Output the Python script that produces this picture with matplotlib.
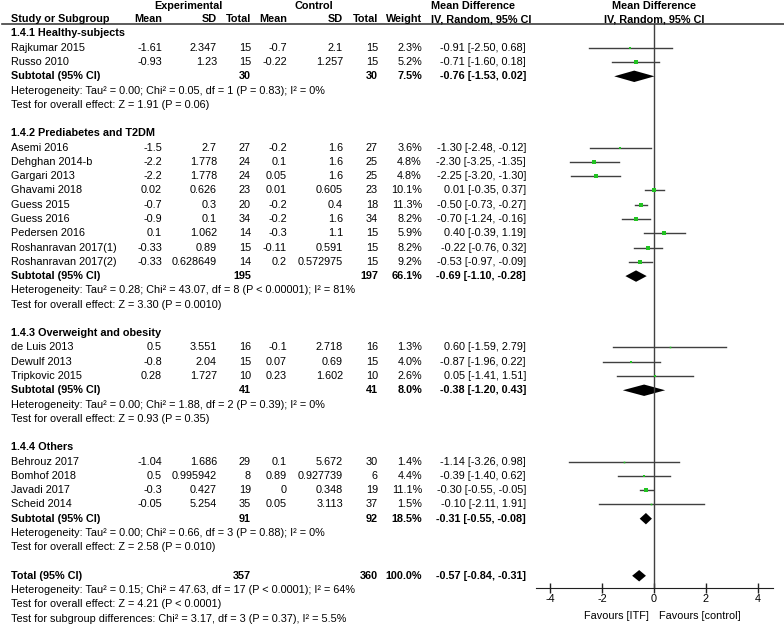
import numpy as np
import matplotlib.pyplot as plt
from matplotlib.patches import Polygon

plt.rcParams['font.family'] = ['Liberation Sans', 'DejaVu Sans']
plt.rcParams['axes.unicode_minus'] = False

# ---- data -------------------------------------------------------------
groups = ['1.4.1 Healthy-subjects', '1.4.2 Prediabetes and T2DM',
          '1.4.3 Overweight and obesity', '1.4.4 Others']
group_of = [0, 0, 1, 1, 1, 1, 1, 1, 1, 1, 1, 2, 2, 2, 3, 3, 3, 3]
studies = ['Rajkumar 2015', 'Russo 2010',
           'Asemi 2016', 'Dehghan 2014-b', 'Gargari 2013', 'Ghavami 2018',
           'Guess 2015', 'Guess 2016', 'Pedersen 2016', 'Roshanravan 2017(1)',
           'Roshanravan 2017(2)',
           'de Luis 2013', 'Dewulf 2013', 'Tripkovic 2015',
           'Behrouz 2017', 'Bomhof 2018', 'Javadi 2017', 'Scheid 2014']
exp_mean = [-1.61, -0.93, -1.5, -2.2, -2.2, 0.02, -0.7, -0.9, 0.1, -0.33, -0.33,
            0.5, -0.8, 0.28, -1.04, 0.5, -0.3, -0.05]
exp_sd = [2.347, 1.23, 2.7, 1.778, 1.778, 0.626, 0.3, 0.1, 1.062, 0.89, 0.628649,
          3.551, 2.04, 1.727, 1.686, 0.995942, 0.427, 5.254]
exp_n = [15, 15, 27, 24, 24, 23, 20, 34, 14, 15, 14, 16, 15, 10, 29, 8, 19, 35]
ctl_mean = [-0.7, -0.22, -0.2, 0.1, 0.05, 0.01, -0.2, -0.2, -0.3, -0.11, 0.2,
            -0.1, 0.07, 0.23, 0.1, 0.89, 0, 0.05]
ctl_sd = [2.1, 1.257, 1.6, 1.6, 1.6, 0.605, 0.4, 1.6, 1.1, 0.591, 0.572975,
          2.718, 0.69, 1.602, 5.672, 0.927739, 0.348, 3.113]
ctl_n = [15, 15, 27, 25, 25, 23, 18, 34, 15, 15, 15, 16, 15, 10, 30, 6, 19, 37]
weight = [2.3, 5.2, 3.6, 4.8, 4.8, 10.1, 11.3, 8.2, 5.9, 8.2, 9.2,
          1.3, 4.0, 2.6, 1.4, 4.4, 11.1, 1.5]
md = [-0.91, -0.71, -1.30, -2.30, -2.25, 0.01, -0.50, -0.70, 0.40, -0.22, -0.53,
      0.60, -0.87, 0.05, -1.14, -0.39, -0.30, -0.10]
ci_lo = [-2.50, -1.60, -2.48, -3.25, -3.20, -0.35, -0.73, -1.24, -0.39, -0.76, -0.97,
         -1.59, -1.96, -1.41, -3.26, -1.40, -0.55, -2.11]
ci_hi = [0.68, 0.18, -0.12, -1.35, -1.30, 0.37, -0.27, -0.16, 1.19, 0.32, -0.09,
         2.79, 0.22, 1.51, 0.98, 0.62, -0.05, 1.91]

sub_exp_n = [30, 195, 41, 91]
sub_ctl_n = [30, 197, 41, 92]
sub_weight = [7.5, 66.1, 8.0, 18.5]
sub_md = [-0.76, -0.69, -0.38, -0.31]
sub_lo = [-1.53, -1.10, -1.20, -0.55]
sub_hi = [0.02, -0.28, 0.43, -0.08]
sub_het = ['Heterogeneity: Tau\u00b2 = 0.00; Chi\u00b2 = 0.05, df = 1 (P = 0.83); I\u00b2 = 0%',
           'Heterogeneity: Tau\u00b2 = 0.28; Chi\u00b2 = 43.07, df = 8 (P < 0.00001); I\u00b2 = 81%',
           'Heterogeneity: Tau\u00b2 = 0.00; Chi\u00b2 = 1.88, df = 2 (P = 0.39); I\u00b2 = 0%',
           'Heterogeneity: Tau\u00b2 = 0.00; Chi\u00b2 = 0.66, df = 3 (P = 0.88); I\u00b2 = 0%']
sub_test = ['Test for overall effect: Z = 1.91 (P = 0.06)',
            'Test for overall effect: Z = 3.30 (P = 0.0010)',
            'Test for overall effect: Z = 0.93 (P = 0.35)',
            'Test for overall effect: Z = 2.58 (P = 0.010)']

tot_exp_n, tot_ctl_n, tot_weight = 357, 360, 100.0
tot_md, tot_lo, tot_hi = -0.57, -0.84, -0.31
tot_lines = ['Heterogeneity: Tau\u00b2 = 0.15; Chi\u00b2 = 47.63, df = 17 (P < 0.0001); I\u00b2 = 64%',
             'Test for overall effect: Z = 4.21 (P < 0.0001)',
             'Test for subgroup differences: Chi\u00b2 = 3.17, df = 3 (P = 0.37), I\u00b2 = 5.5%']

# ---- layout -----------------------------------------------------------
W, H = 784, 625
ROW0, PITCH = 33.5, 14.27
FS = 7.8
GREEN = '#22c322'
GREY = '#404040'

def ypx(r):
    return ROW0 + PITCH * r

fig = plt.figure(figsize=(W / 100, H / 100), dpi=100)
tx = fig.add_axes([0, 0, 1, 1])
tx.set_xlim(0, W)
tx.set_ylim(H, 0)
tx.axis('off')

ax_l, ax_r, ax_top, ax_bot = 536, 773, 24, 588
ax = fig.add_axes([ax_l / W, (H - ax_bot) / H, (ax_r - ax_l) / W, (ax_bot - ax_top) / H])
ax.set_xlim(-4.54, 4.58)
ax.set_ylim((ax_bot - ROW0) / PITCH, (ax_top - ROW0) / PITCH)
ax.patch.set_alpha(0)
for s in ['left', 'right', 'top']:
    ax.spines[s].set_visible(False)
ax.spines['bottom'].set_color('#202020')
ax.set_yticks([])
ax.set_xticks([-4, -2, 0, 2, 4])
ax.tick_params(axis='x', direction='inout', length=7, width=1, color='#202020',
               labelsize=FS, pad=1)
ax.axvline(0, color=GREY, lw=1)

# column right edges
cx = dict(em=162, esd=217, en=251, cm=287, csd=343, cn=378, w=422, md=526)

def t(x, r, s, ha='right', bold=False):
    tx.text(x, ypx(r), s, ha=ha, va='center', fontsize=FS,
            fontweight='bold' if bold else 'normal', color='black')

# headers
tx.text(188, 6, 'Experimental', ha='center', va='center', fontsize=FS, fontweight='bold')
tx.text(314, 6, 'Control', ha='center', va='center', fontsize=FS, fontweight='bold')
tx.text(431, 6, 'Mean Difference', ha='left', va='center', fontsize=FS, fontweight='bold')
tx.text(654, 6, 'Mean Difference', ha='center', va='center', fontsize=FS, fontweight='bold')
hy = 19.5
tx.text(11, hy, 'Study or Subgroup', ha='left', va='center', fontsize=FS, fontweight='bold')
for key, lab in [('em', 'Mean'), ('esd', 'SD'), ('en', 'Total'),
                 ('cm', 'Mean'), ('csd', 'SD'), ('cn', 'Total'), ('w', 'Weight')]:
    tx.text(cx[key], hy, lab, ha='right', va='center', fontsize=FS, fontweight='bold')
tx.text(431, hy, 'IV, Random, 95% CI', ha='left', va='center', fontsize=FS, fontweight='bold')
tx.text(654, hy, 'IV, Random, 95% CI', ha='center', va='center', fontsize=FS, fontweight='bold')
tx.plot([2, W], [ax_top, ax_top], color=GREY, lw=1.2)

def diamond(r, m, lo, hi):
    h = 0.4
    ax.add_patch(Polygon([[lo, r], [m, r - h], [hi, r], [m, r + h]],
                         closed=True, color='black', lw=0))

row = 0
for g, gname in enumerate(groups):
    t(11, row, gname, ha='left', bold=True)
    row += 1
    for i in [k for k in range(len(studies)) if group_of[k] == g]:
        t(11, row, studies[i], ha='left')
        t(cx['em'], row, f'{exp_mean[i]:g}')
        t(cx['esd'], row, f'{exp_sd[i]:g}')
        t(cx['en'], row, f'{exp_n[i]}')
        t(cx['cm'], row, f'{ctl_mean[i]:g}')
        t(cx['csd'], row, f'{ctl_sd[i]:g}')
        t(cx['cn'], row, f'{ctl_n[i]}')
        t(cx['w'], row, f'{weight[i]:.1f}%')
        t(cx['md'], row, f'{md[i]:.2f} [{ci_lo[i]:.2f}, {ci_hi[i]:.2f}]')
        ax.plot([ci_lo[i], ci_hi[i]], [row, row], color=GREY, lw=1)
        ax.plot(md[i], row, marker='s', color=GREEN, ms=1.0 * np.sqrt(weight[i]), mew=0)
        row += 1
    t(11, row, 'Subtotal (95% CI)', ha='left', bold=True)
    t(cx['en'], row, f'{sub_exp_n[g]}', bold=True)
    t(cx['cn'], row, f'{sub_ctl_n[g]}', bold=True)
    t(cx['w'], row, f'{sub_weight[g]:.1f}%', bold=True)
    t(cx['md'], row, f'{sub_md[g]:.2f} [{sub_lo[g]:.2f}, {sub_hi[g]:.2f}]', bold=True)
    diamond(row, sub_md[g], sub_lo[g], sub_hi[g])
    row += 1
    t(11, row, sub_het[g], ha='left')
    row += 1
    t(11, row, sub_test[g], ha='left')
    row += 2

t(11, row, 'Total (95% CI)', ha='left', bold=True)
t(cx['en'], row, f'{tot_exp_n}', bold=True)
t(cx['cn'], row, f'{tot_ctl_n}', bold=True)
t(cx['w'], row, f'{tot_weight:.1f}%', bold=True)
t(cx['md'], row, f'{tot_md:.2f} [{tot_lo:.2f}, {tot_hi:.2f}]', bold=True)
diamond(row, tot_md, tot_lo, tot_hi)
for line in tot_lines:
    row += 1
    t(11, row, line, ha='left')

tx.text(649, 616, 'Favours [ITF]', ha='right', va='center', fontsize=FS)
tx.text(659, 616, 'Favours [control]', ha='left', va='center', fontsize=FS)

fig.savefig('out.png', dpi=100)
